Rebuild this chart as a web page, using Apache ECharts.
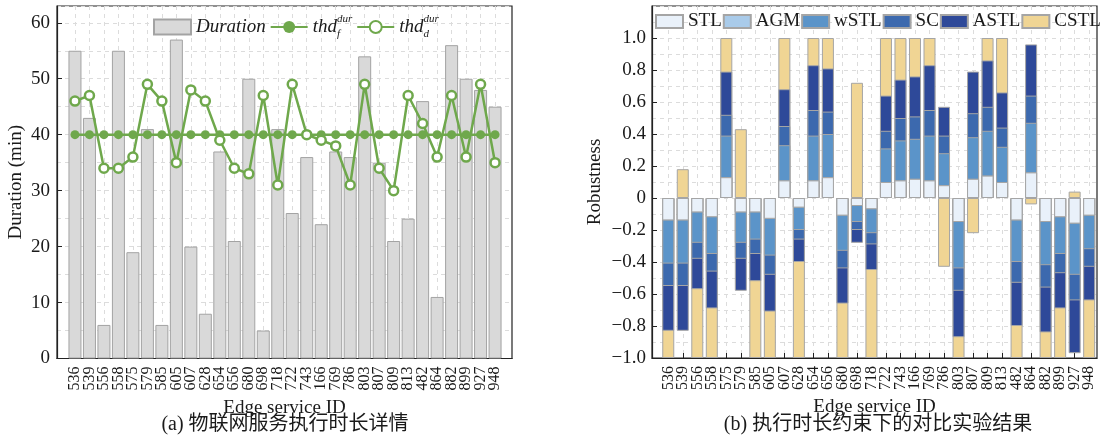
<!DOCTYPE html>
<html>
<head>
<meta charset="utf-8">
<script src="https://cdn.jsdelivr.net/npm/echarts@6/dist/echarts.min.js"></script>
<style>
html,body{margin:0;padding:0;background:#fff;}
#chart{width:1109px;height:443px;}
</style>
</head>
<body>
<div id="chart"></div>
<script>
// ---- data ----
const categories = ['536','539','556','558','575','579','585','605','607','628','654','656','680','698','718','722','743','166','769','786','803','807','809','813','482','864','882','899','927','948'];
const duration = [55,43,6,55,19,41,6,57,20,8,37,21,50,5,41,26,36,24,37,36,54,35,21,25,46,11,56,50,48,45];
const thdF = [40,40,40,40,40,40,40,40,40,40,40,40,40,40,40,40,40,40,40,40,40,40,40,40,40,40,40,40,40,40];
const thdD = [46,47,34,34,36,49,46,35,48,46,39,34,33,47,31,49,40,39,38,31,49,34,30,47,42,36,47,36,49,35];

const STL  = [-0.14,-0.14,-0.09,-0.12,0.13,-0.09,-0.09,-0.13,0.11,-0.06,0.11,0.13,-0.11,-0.05,-0.07,0.10,0.11,0.12,0.11,0.08,-0.15,0.12,0.14,0.10,-0.14,0.16,-0.15,-0.12,-0.16,-0.11];
const AGM  = [-0.14,-0.14,-0.09,-0.12,0.13,-0.09,-0.09,-0.13,0.11,-0.06,0.11,0.13,-0.11,-0.05,-0.07,0.10,0.11,0.12,0.11,0.08,-0.15,0.12,0.14,0.10,-0.14,0.16,-0.15,-0.12,-0.16,-0.11];
const wSTL = [-0.41,-0.41,-0.28,-0.35,0.39,-0.28,-0.26,-0.36,0.33,-0.20,0.39,0.40,-0.33,-0.15,-0.22,0.31,0.36,0.37,0.39,0.28,-0.44,0.38,0.42,0.32,-0.40,0.47,-0.42,-0.35,-0.48,-0.32];
const SC   = [-0.55,-0.55,-0.38,-0.46,0.52,-0.38,-0.35,-0.48,0.45,-0.26,0.55,0.54,-0.44,-0.20,-0.29,0.42,0.50,0.51,0.55,0.39,-0.58,0.53,0.57,0.44,-0.53,0.64,-0.56,-0.47,-0.64,-0.43];
const ASTL = [-0.83,-0.83,-0.57,-0.69,0.79,-0.58,-0.52,-0.71,0.68,-0.40,0.83,0.81,-0.66,-0.28,-0.45,0.64,0.74,0.76,0.83,0.57,-0.87,0.79,0.86,0.66,-0.80,0.96,-0.84,-0.69,-0.97,-0.64];
const CSTL = [-1.0,0.18,-1.0,-1.0,1.0,0.43,-1.0,-1.0,1.0,-1.0,1.0,1.0,-1.0,0.72,-1.0,1.0,1.0,1.0,1.0,-0.43,-1.0,-0.22,1.0,1.0,-1.0,-0.04,-1.0,-1.0,0.04,-1.0];

const leftYTicks = [0,10,20,30,40,50,60];
const rightYTicks = [-1.0,-0.8,-0.6,-0.4,-0.2,0,0.2,0.4,0.6,0.8,1.0];

// ---- styling ----
const SERIF = "'Liberation Serif','DejaVu Serif',serif";
const INK = '#1a1a1a';
const GREEN = '#6fa84c';
const gridLine = {show:true, lineStyle:{color:'#dcdcdc', type:[4,4], width:1}};
const idx = categories.map((c,i)=>i);
const pairs = arr => arr.map((v,i)=>[i,v]);

function xAxisFor(gridIndex, min, max){
  return {
    type:'value', gridIndex, min, max,
    axisLine:{show:true, onZero:false, lineStyle:{color:'#222', width:1.2}},
    axisTick:{show:true, inside:true, length:5, customValues: idx, lineStyle:{color:'#222'}},
    axisLabel:{show:false},
    splitLine: gridLine,
    name:'Edge service ID', nameLocation:'middle', nameGap:40,
    nameTextStyle:{fontSize:19, fontFamily:SERIF, color:INK}
  };
}
// label-only category axes aligned with the category centres of the value axes
function labelAxisFor(gridIndex){
  return {
    type:'category', gridIndex, data:categories, boundaryGap:true,
    axisLine:{show:false}, axisTick:{show:false}, splitLine:{show:false},
    axisLabel:{interval:0, rotate:90, margin:8, fontSize:16, fontFamily:SERIF, color:INK}
  };
}

const methodColors = {STL:'#e9f1fa', AGM:'#a9cbea', wSTL:'#5b94c9', SC:'#3c69ae', ASTL:'#2e4999', CSTL:'#f0d594'};
const methodData = {STL, AGM, wSTL, SC, ASTL, CSTL};
const drawOrder = ['CSTL','ASTL','SC','wSTL','AGM','STL'];
const legendOrder = ['STL','AGM','wSTL','SC','ASTL','CSTL'];

const rightSeries = drawOrder.map(name => ({
  type:'bar', name, xAxisIndex:1, yAxisIndex:1,
  data: pairs(methodData[name]),
  barWidth:12, barGap:'-100%',
  itemStyle:{color:methodColors[name], borderColor:'#a5a5a5', borderWidth:1},
  emphasis:{disabled:true}
}));

const legendRich = {
  it:{fontFamily:SERIF, fontStyle:'italic', fontSize:19, lineHeight:26, color:INK},
  sub:{fontFamily:SERIF, fontStyle:'italic', fontSize:11, lineHeight:11, verticalAlign:'bottom', width:0, color:INK},
  sup:{fontFamily:SERIF, fontStyle:'italic', fontSize:11, lineHeight:11, verticalAlign:'top', color:INK}
};

const chart = echarts.init(document.getElementById('chart'), null, {renderer:'canvas'});
chart.setOption({
  animation:false,
  backgroundColor:'#fff',
  grid:[
    {left:57, top:6, width:455, height:352.5, show:true, borderColor:'#222', borderWidth:1.2, backgroundColor:'transparent'},
    {left:652, top:6, width:445, height:352, show:true, borderColor:'#222', borderWidth:1.2, backgroundColor:'transparent'},
    {left:67.76, top:6, width:434.4, height:352.5, show:false},
    {left:661.05, top:6, width:435.3, height:352, show:false}
  ],
  xAxis:[ xAxisFor(0, -1.24, 30.17), xAxisFor(1, -1.12, 29.54), labelAxisFor(2), labelAxisFor(3) ],
  yAxis:[
    {type:'value', gridIndex:0, min:0, max:63, interval:10,
      axisLine:{show:true, onZero:false, lineStyle:{color:'#222', width:1.2}},
      axisTick:{show:true, inside:true, length:5, lineStyle:{color:'#222'}},
      axisLabel:{showMaxLabel:false, margin:7, fontSize:19, fontFamily:SERIF, color:INK,
        formatter: v => leftYTicks.includes(v) ? String(v) : ''},
      splitLine: gridLine,
      minorTick:{show:false, splitNumber:2},
      minorSplitLine: gridLine,
      name:'Duration (min)', nameLocation:'middle', nameGap:31,
      nameTextStyle:{fontSize:19, fontFamily:SERIF, color:INK}
    },
    {type:'value', gridIndex:1, min:-1.0, max:1.2, interval:0.2,
      axisLine:{show:true, onZero:false, lineStyle:{color:'#222', width:1.2}},
      axisTick:{show:true, inside:true, length:5, lineStyle:{color:'#222'}},
      axisLabel:{showMaxLabel:false, margin:6, fontSize:19, fontFamily:SERIF, color:INK,
        formatter: v => {
          const r = Math.round(v*10)/10;
          if (!rightYTicks.some(t => Math.abs(t-r) < 1e-9)) return '';
          if (Math.abs(r) < 1e-9) return '0';
          return r.toFixed(1).replace('-', '\u2212');
        }},
      splitLine: gridLine,
      minorTick:{show:false, splitNumber:2},
      minorSplitLine: gridLine,
      name:'Robustness', nameLocation:'middle', nameGap:47,
      nameTextStyle:{fontSize:19, fontFamily:SERIF, color:INK}
    },
    {type:'value', gridIndex:2, show:false},
    {type:'value', gridIndex:3, show:false}
  ],
  legend:[
    {left:148, top:9, orient:'horizontal', itemWidth:37, itemHeight:15, itemGap:4,
      data:[{name:'Duration', icon:'rect'},'thdf','thdd'],
      textStyle:{rich:legendRich},
      formatter: n => n === 'Duration' ? '{it|Duration}' : (n === 'thdf' ? '{it|thd}{sub|f}{sup|dur}' : '{it|thd}{sub|d}{sup|dur}')
    },
    {left:655, top:12, padding:0, orient:'horizontal', itemWidth:27, itemHeight:13, itemGap:1, icon:'rect',
      data:legendOrder,
      textStyle:{fontSize:19, fontFamily:SERIF, color:INK}
    }
  ],
  series:[
    {type:'bar', name:'Duration', xAxisIndex:0, yAxisIndex:0, data:pairs(duration), barWidth:13,
      itemStyle:{color:'#d9d9d9', borderColor:'#a3a3a3', borderWidth:1}, emphasis:{disabled:true}},
    {type:'line', name:'thdf', xAxisIndex:0, yAxisIndex:0, data:pairs(thdF),
      symbol:'circle', symbolSize:9, showAllSymbol:true,
      lineStyle:{color:GREEN, width:2.5}, itemStyle:{color:GREEN}, emphasis:{disabled:true}},
    {type:'line', name:'thdd', xAxisIndex:0, yAxisIndex:0, data:pairs(thdD),
      symbol:'circle', symbolSize:9, showAllSymbol:true,
      lineStyle:{color:GREEN, width:2.5}, itemStyle:{color:'#ffffff', borderColor:GREEN, borderWidth:2.5}, emphasis:{disabled:true}},
    ...rightSeries
  ],
  graphic:[
    {type:'text', x:285, y:425, style:{text:'(a) 物联网服务执行时长详情', fontSize:20, fontFamily:"'Liberation Serif','Noto Sans CJK SC',serif", fill:INK, align:'center', verticalAlign:'middle'}},
    {type:'text', x:878, y:425, style:{text:'(b) 执行时长约束下的对比实验结果', fontSize:20, fontFamily:"'Liberation Serif','Noto Sans CJK SC',serif", fill:INK, align:'center', verticalAlign:'middle'}}
  ]
});
</script>
</body>
</html>
